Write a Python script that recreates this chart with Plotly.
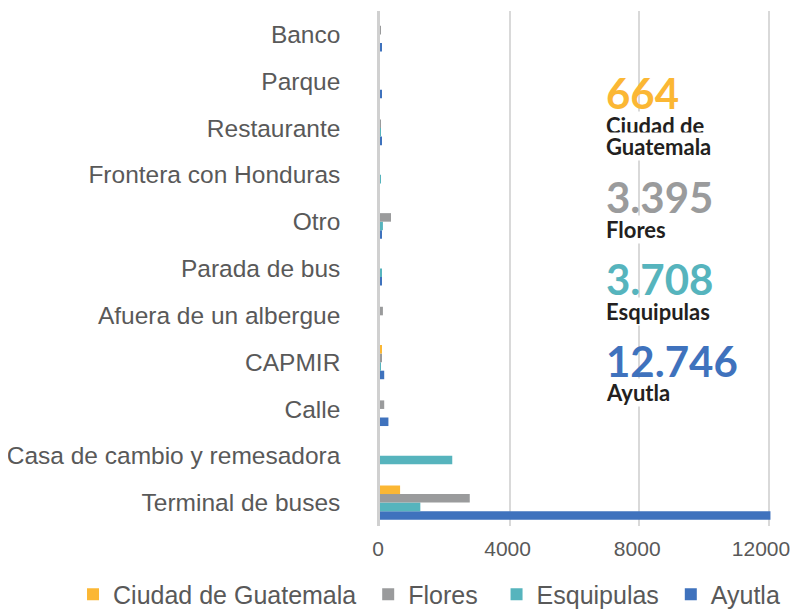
import plotly.graph_objects as go

# Categories bottom -> top
categories = ["Terminal de buses", "Casa de cambio y remesadora", "Calle", "CAPMIR",
              "Afuera de un albergue", "Parada de bus", "Otro", "Frontera con Honduras",
              "Restaurante", "Parque", "Banco"]

ciudad = [620, 0, 0, 40, 0, 0, 0, 0, 0, 0, 0]
flores = [2770, 0, 130, 35, 90, 0, 340, 0, 20, 0, 25]
esquipulas = [1245, 2230, 0, 25, 0, 40, 90, 30, 30, 0, 0]
ayutla = [12050, 0, 260, 130, 0, 40, 40, 0, 40, 40, 40]

series_names = ["Ciudad de Guatemala", "Flores", "Esquipulas", "Ayutla"]
series_values = [ciudad, flores, esquipulas, ayutla]
colors = ["#FBB734", "#9A9B9C", "#56B4BD", "#3F72BD"]
totals = ["664", "3.395", "3.708", "12.746"]
total_labels = [["Ciudad de", "Guatemala"], ["Flores"], ["Esquipulas"], ["Ayutla"]]

x_ticks = [0, 4000, 8000, 12000]
x_tick_text = ["0", "4000", "8000", "12000\u00a0\u00a0"]

NB = "\u00a0"
legend_pad = {"Ciudad de Guatemala": NB, "Flores": NB * 2, "Esquipulas": NB, "Ayutla": ""}

fig = go.Figure()
# Add in reverse so Ciudad sits on top of each group
for name, vals, col in reversed(list(zip(series_names, series_values, colors))):
    fig.add_trace(go.Bar(y=categories, x=vals, name=name + legend_pad[name], orientation="h",
                         marker=dict(color=col, line=dict(width=0))))

# The page body adds an 8px margin, so the figure is sized 790x603
fig.update_layout(
    width=790, height=603,
    margin=dict(l=372, r=0, t=2.5, b=84.5, autoexpand=False),
    paper_bgcolor="white", plot_bgcolor="white",
    barmode="group", bargap=0.27, bargroupgap=0,
    font=dict(family="Liberation Sans, Arial, sans-serif", color="#595959"),
    showlegend=True,
    legend=dict(orientation="h", traceorder="reversed",
                x=-0.7344, xanchor="left", y=-0.1328, yanchor="middle",
                font=dict(size=25, color="#595959"), itemwidth=30,
                bgcolor="rgba(0,0,0,0)"),
)
fig.update_xaxes(range=[0, 12900], tickvals=x_ticks, ticktext=x_tick_text,
                 showgrid=True, gridcolor="#D9D9D9", gridwidth=1.5,
                 zeroline=False, showline=False, ticks="", automargin=False,
                 ticklabeloverflow="allow", ticklabelshift=-2,
                 tickfont=dict(size=21, color="#595959"), ticklabelstandoff=8)
fig.update_yaxes(type="category", categoryorder="array", categoryarray=categories,
                 showgrid=False, zeroline=False, showline=True, linecolor="#D0D0D0",
                 linewidth=2.5, ticks="", ticklabelstandoff=32, automargin=False,
                 tickfont=dict(size=24.5, color="#595959"))

# Totals annotations (positions from reference pixel rows)
def ypos(pix):
    return (526.5 - pix) / 516

xa = (605 - 380) / 418
num_y = [92.5, 197, 279, 361]
lab_y = [[125, 146], [229.5], [312], [393]]
# labels first, then the big numbers drawn over them
for labs, ly in zip(total_labels, lab_y):
    for lab, yy in zip(labs, ly):
        fig.add_annotation(x=xa, y=ypos(yy), xref="paper", yref="paper", text=lab,
                           showarrow=False, xanchor="left", yanchor="middle",
                           font=dict(family="Lato, sans-serif", size=22, color="#231F20", weight="bold"),
                           bgcolor="white", borderpad=0)
for tot, col, ny in zip(totals, colors, num_y):
    fig.add_annotation(x=xa, y=ypos(ny), xref="paper", yref="paper", text=tot,
                       showarrow=False, xanchor="left", yanchor="middle",
                       font=dict(family="Lato, sans-serif", size=42, color=col, weight="bold"),
                       bgcolor="rgba(255,255,255,0)", borderpad=0)

fig.write_html("out.html")
